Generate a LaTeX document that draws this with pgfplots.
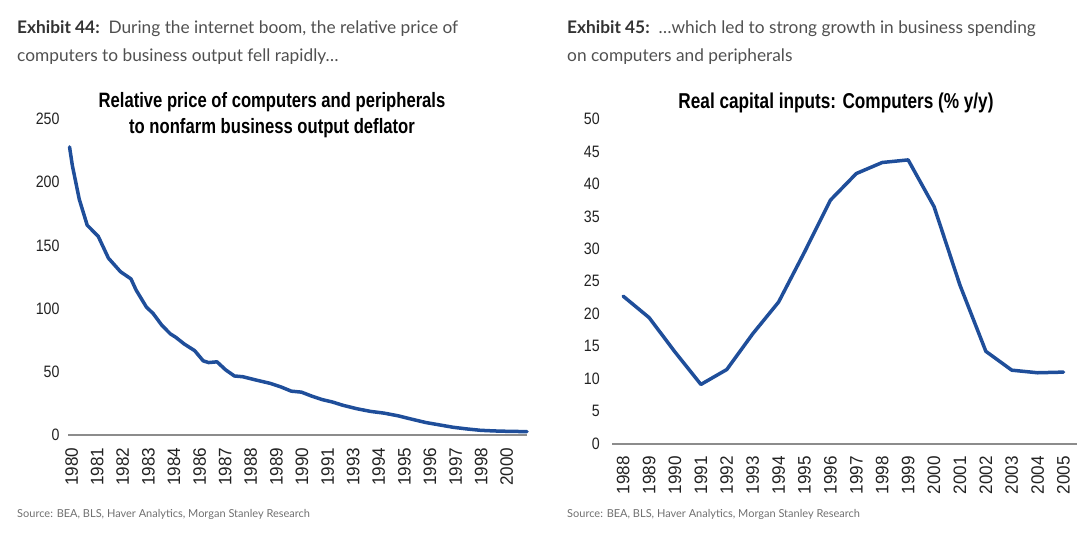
\documentclass[border=0pt]{standalone}
\usepackage{fontspec}
\setmainfont{Liberation Sans}
\newfontfamily\cond[FakeStretch=0.86]{Liberation Sans}
\newfontfamily\condx[FakeStretch=0.95]{Liberation Sans}
\newfontfamily\condt[FakeStretch=0.80]{Liberation Sans}
\newfontfamily\head{Lato}
\usepackage{pgfplots}
\pgfplotsset{compat=1.18}

\definecolor{lineblue}{HTML}{1F4E9A}
\definecolor{axisgray}{HTML}{8C8C8C}
\definecolor{tickgray}{HTML}{222222}
\definecolor{headgray}{HTML}{505050}
\definecolor{boldgray}{HTML}{333333}
\definecolor{srcgray}{HTML}{707070}

\pgfplotsset{
  msaxis/.style={
    scale only axis,
    anchor=south west,
    axis x line*=bottom,
    axis y line*=left,
    y axis line style={draw=none},
    x axis line style={draw=axisgray, line width=2pt},
    tick style={draw=none},
    ticklabel style={font=\cond\fontsize{16.5}{17}\selectfont, text=tickgray},
    /pgf/number format/assume math mode=true,
    /pgf/number format/1000 sep={},
    xticklabel style={yshift=-9pt, rotate=90, anchor=east,
      font=\condx\fontsize{18}{18}\selectfont},
    clip=false,
  },
  msline/.style={lineblue, line width=3.5pt, line join=round, line cap=round, no marks},
}

\begin{document}
\begin{tikzpicture}
\path[use as bounding box] (0,0) rectangle (1080pt,-535pt);

% headers
\begin{scope}[every node/.style={anchor=base west, inner sep=0, text=headgray,
      font=\head\fontsize{17.3}{28}\selectfont}]
\node at (17pt,-34pt) {\textcolor{boldgray}{\bfseries Exhibit 44:}\ \ During the internet boom, the relative price of};
\node at (17pt,-62pt) {computers to business output fell rapidly\ldots};
\node at (567pt,-34pt) {\textcolor{boldgray}{\bfseries Exhibit 45:}\ \ \ldots which led to strong growth in business spending};
\node at (567pt,-62pt) {on computers and peripherals};
\end{scope}

% left chart
\begin{axis}[msaxis,
  at={(68pt,-435pt)},
  width=459pt, height=316pt,
  xmin=-0.14, xmax=17.79,
  ymin=0, ymax=250,
  ytick={0,50,...,250},
  yticklabel style={xshift=-5pt},
  xtick={0,...,17},
  xticklabels={1980,1981,1982,1983,1984,1986,1987,1988,1989,1990,1991,1993,1994,1995,1996,1997,1998,2000},
]
\addplot[msline] table {
x y
-0.08 227.9
0.03 213.2
0.30 186.5
0.61 166.0
1.04 157.2
1.44 139.9
1.91 129.2
2.32 123.5
2.52 114.7
2.92 101.3
3.19 96.0
3.53 86.7
3.86 80.0
4.07 77.3
4.40 72.0
4.81 66.7
5.14 58.7
5.35 57.3
5.68 57.9
6.02 51.5
6.36 46.7
6.69 46.1
7.10 44.0
7.37 42.7
7.77 40.8
8.17 38.1
8.58 34.7
8.98 33.9
9.39 30.7
9.79 28.0
10.19 26.1
10.60 23.5
11.14 20.8
11.67 18.7
12.21 17.3
12.75 15.2
13.29 12.5
13.83 9.9
14.37 8.0
14.91 6.1
15.44 4.8
15.98 3.7
16.52 3.2
17.06 2.9
17.67 2.7
17.79 2.7
};
\end{axis}
\node[align=center, inner sep=0, font=\condt\bfseries\fontsize{20.8}{26}\selectfont, text=black]
  at (272pt,-115pt) {Relative price of computers and peripherals\\to nonfarm business output deflator};

% right chart
\begin{axis}[msaxis,
  at={(612.3pt,-443.5pt)},
  width=465pt, height=324.5pt,
  xmin=1987.58, xmax=2005.53,
  ymin=0, ymax=50,
  ytick={0,5,...,50},
  yticklabel style={xshift=-9pt},
  xtick={1988,...,2005},
]
\addplot[msline] table {
x y
1988 22.7
1989 19.4
1990 14.1
1991 9.1
1992 11.4
1993 16.9
1994 21.8
1995 29.5
1996 37.5
1997 41.6
1998 43.3
1999 43.7
2000 36.5
2001 24.4
2002 14.2
2003 11.3
2004 10.9
2005 11.0
};
\end{axis}
\node[inner sep=0, font=\condt\bfseries\fontsize{21.5}{26}\selectfont, text=black]
  at (836pt,-103pt) {Real capital inputs: Computers (\% y/y)};

% sources
\node[anchor=base west, inner sep=0, text=srcgray, font=\head\fontsize{11}{12}\selectfont]
  at (17pt,-517pt) {Source: BEA, BLS, Haver Analytics, Morgan Stanley Research};
\node[anchor=base west, inner sep=0, text=srcgray, font=\head\fontsize{11}{12}\selectfont]
  at (567pt,-517pt) {Source: BEA, BLS, Haver Analytics, Morgan Stanley Research};
\end{tikzpicture}
\end{document}
